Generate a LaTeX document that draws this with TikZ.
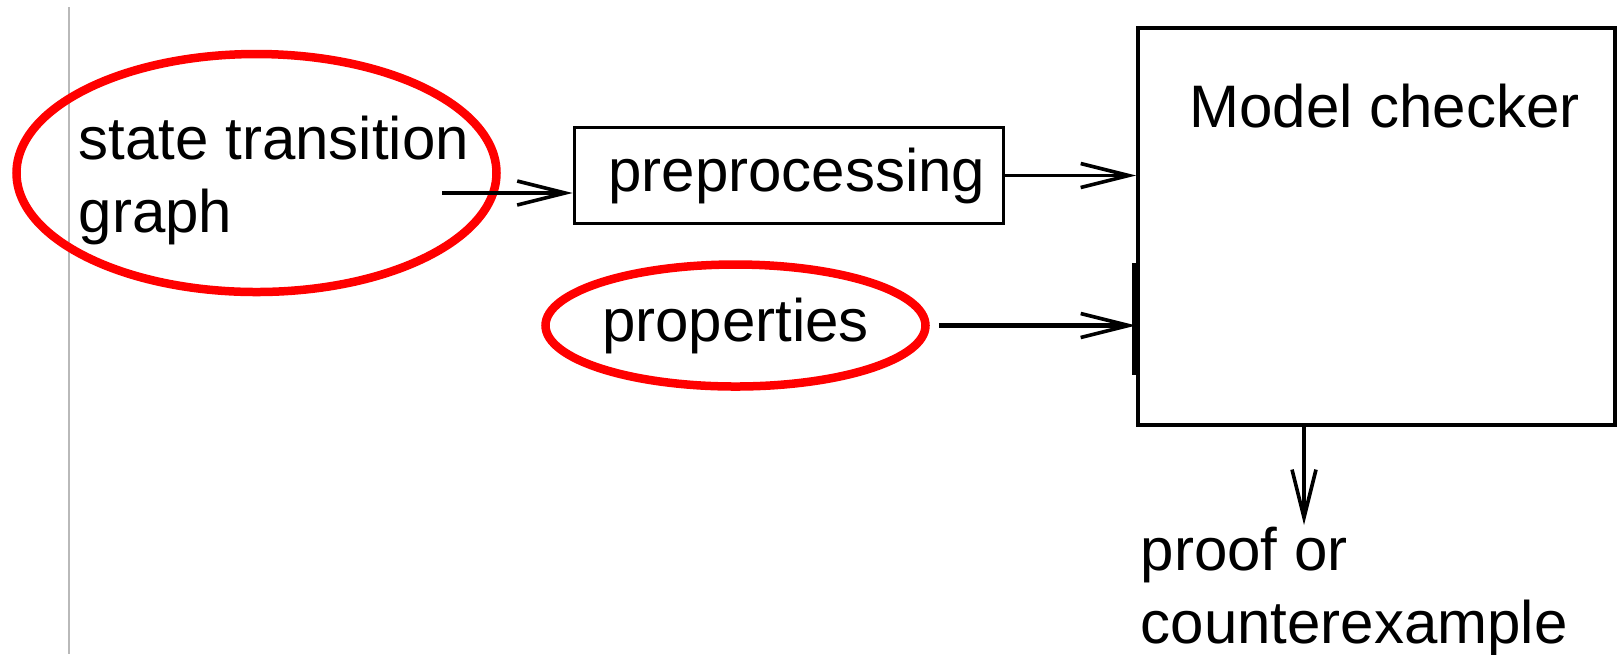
\documentclass[tikz,border=0pt]{standalone}
\usepackage{fontspec}
\setmainfont{Liberation Sans}
\usepackage{xcolor}
\usepackage{tikz}
\usetikzlibrary{shapes,arrows.meta,positioning}

\begin{document}
\begin{tikzpicture}[
    font=\fontsize{17.07pt}{20.5pt}\selectfont,
    block/.style={rectangle, draw, line width=0.038cm, inner sep=0pt},
    ring/.style={ellipse, draw=red, line width=0.085cm, inner sep=0pt},
    caption/.style={inner sep=0pt, align=left},
    line/.style={draw, line width=0.036cm, -{Straight Barb[length=0.48cm, width=0.24cm, line width=0.036cm]}}
]
    \useasboundingbox (0,0) rectangle (16.19,-6.54);
    \draw [gray!55, line width=0.014cm] (0.69,-0.07) -- (0.69,-6.54);

    \node [ring, minimum width=4.80cm, minimum height=2.38cm] (stgring) at (2.565,-1.73) {};
    \node [caption, anchor=base west] (stg) at (0.78,-2.32) {state transition\\graph};
    \node [block, minimum width=4.29cm, minimum height=0.96cm] (prep) at (7.89,-1.755) {\hspace{0.16cm}preprocessing};
    \node [ring, minimum width=3.80cm, minimum height=1.22cm] (props) at (7.355,-3.255) {properties};
    \node [block, minimum width=4.77cm, minimum height=3.97cm] (checker) at (13.765,-2.265) {};
    \node [caption, anchor=base, xshift=0.08cm] (mctitle) at ([yshift=-1.01cm]checker.north) {Model checker};
    \node [caption, anchor=base west] (result) at (11.40,-6.43) {proof or\\counterexample};
    \coordinate (stgout) at (4.42,-1.93);
    \coordinate (verdict) at (13.04,-5.25);

    \path [line] (stgout) -- (stgout -| prep.west);
    \path [line] (prep.east) -- (prep.east -| checker.west);
    \path [line, line width=0.05cm, shorten <=0.09cm] (props.east) -- (props.east -| checker.west);
    \path [line] (checker.south -| verdict) -- (verdict);
    \draw [line width=0.05cm] ([xshift=-0.015cm,yshift=-0.365cm]checker.west) -- ++(0,-1.12);
\end{tikzpicture}
\end{document}
